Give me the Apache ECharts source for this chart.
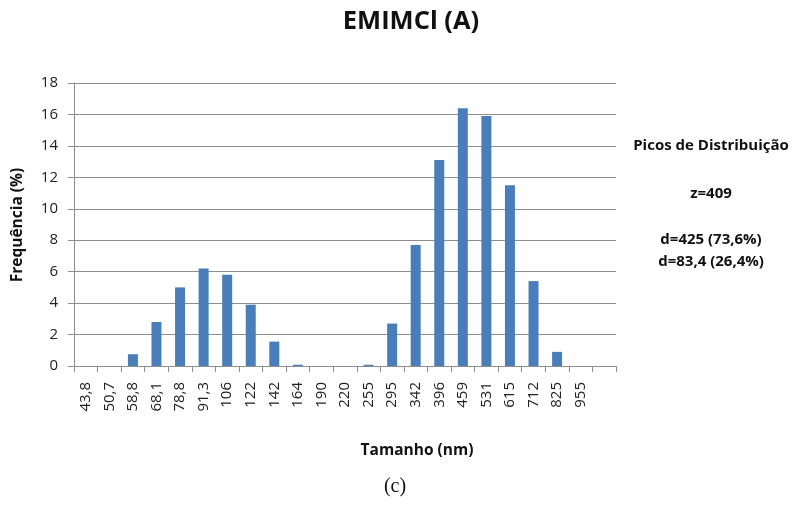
<!DOCTYPE html>
<html>
<head>
<meta charset="utf-8">
<script src="https://cdn.jsdelivr.net/npm/echarts@6/dist/echarts.min.js"></script>
<style>
  html, body { margin: 0; padding: 0; background: #ffffff; }
  #chart { width: 792px; height: 507px; }
</style>
</head>
<body>
<div id="chart"></div>
<script>
// Size classes (nm) of the distribution; the last slot is an empty class
const categories = ['43,8', '50,7', '58,8', '68,1', '78,8', '91,3', '106', '122', '142', '164', '190',
  '220', '255', '295', '342', '396', '459', '531', '615', '712', '825', '955', ''];

// Frequency (%) for each size class
const frequencies = [0, 0, 0.75, 2.8, 5.0, 6.2, 5.8, 3.9, 1.55, 0.08, 0,
  0, 0.08, 2.7, 7.7, 13.1, 16.4, 15.9, 11.5, 5.4, 0.9, 0, 0];

// Y axis range
const yMin = 0;
const yMax = 18;
const yStep = 2;

// Side notes with the distribution peaks
const peakNotes = ['z=409', 'd=425 (73,6%)', 'd=83,4 (26,4%)'];

const FONT = '"Open Sans", "Noto Sans", sans-serif';
const GRID_GREY = '#8e8e8e';
const INK = '#111111';

const chart = echarts.init(document.getElementById('chart'), null, { renderer: 'canvas' });

function note(text, x, y, size, weight) {
  return {
    type: 'text', x: x, y: y,
    style: {
      text: text, font: (weight || 'bold') + ' ' + size + 'px ' + FONT, fill: INK,
      textAlign: 'center', textVerticalAlign: 'middle'
    }
  };
}

chart.setOption({
  backgroundColor: '#ffffff',
  animation: false,
  grid: { left: 74, right: 176, top: 83, bottom: 141, containLabel: false },
  xAxis: {
    type: 'category',
    data: categories,
    boundaryGap: true,
    axisLine: { lineStyle: { color: GRID_GREY, width: 1 } },
    axisTick: { show: true, length: 6, alignWithLabel: false, lineStyle: { color: GRID_GREY } },
    axisLabel: {
      interval: 0,
      rotate: 90,
      margin: 16,
      color: '#222222',
      fontFamily: FONT,
      fontSize: 15
    },
    splitLine: { show: false }
  },
  yAxis: {
    type: 'value',
    min: yMin,
    max: yMax,
    interval: yStep,
    axisLine: { show: true, lineStyle: { color: GRID_GREY, width: 1 } },
    axisTick: { show: true, length: 6, inside: false, lineStyle: { color: GRID_GREY } },
    axisLabel: {
      margin: 16,
      color: '#222222',
      fontFamily: FONT,
      fontSize: 15
    },
    splitLine: { show: true, lineStyle: { color: GRID_GREY, width: 1 } }
  },
  series: [{
    type: 'bar',
    data: frequencies,
    barWidth: 10,
    itemStyle: { color: '#4a7ebb' },
    silent: true
  }],
  graphic: [
    note('EMIMCl (A)', 411, 22, 25.5),
    {
      type: 'text', x: 18, y: 225, rotation: Math.PI / 2,
      style: {
        text: 'Frequência (%)', font: 'bold 15.5px ' + FONT, fill: INK,
        textAlign: 'center', textVerticalAlign: 'middle'
      }
    },
    note('Tamanho (nm)', 417, 451, 15.5),
    note('Picos de Distribuição', 711, 146, 15),
    note(peakNotes[0], 711, 194, 15),
    note(peakNotes[1], 711, 240, 15),
    note(peakNotes[2], 711, 262, 15),
    {
      type: 'text', x: 395, y: 487,
      style: {
        text: '(c)', font: '20px "Liberation Serif", "DejaVu Serif", serif', fill: INK,
        textAlign: 'center', textVerticalAlign: 'middle'
      }
    }
  ]
});
</script>
</body>
</html>
